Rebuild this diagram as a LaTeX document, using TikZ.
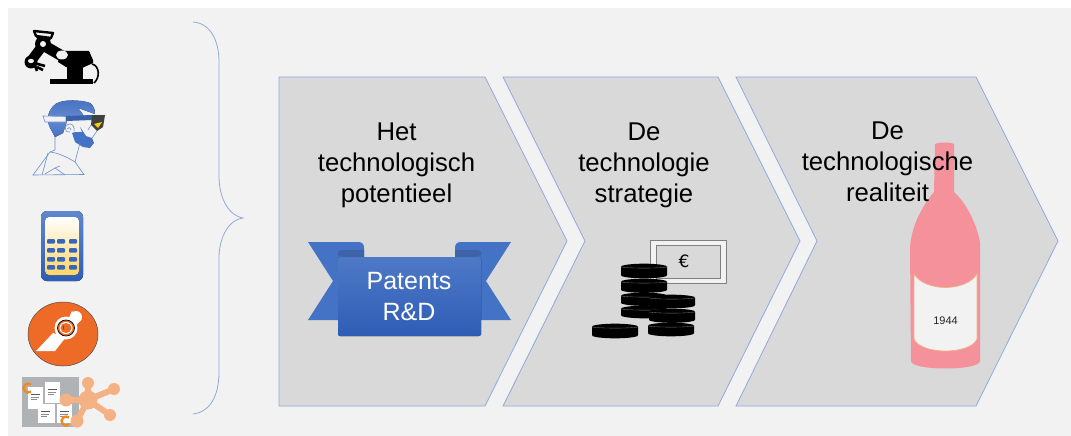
\documentclass[tikz,border=0pt]{standalone}
\usepackage{fontspec}
\setmainfont{Liberation Sans}
\newfontfamily\eurofont{DejaVu Sans}
\definecolor{pagegray}{HTML}{F2F2F2}
\definecolor{chevfill}{HTML}{D9D9D9}
\definecolor{chevline}{HTML}{8FAADC}
\definecolor{ribbonblue}{HTML}{4472C4}
\definecolor{ribbondark}{HTML}{2F5DB5}
\definecolor{ribbonfold}{HTML}{3F62A8}
\definecolor{bottlepink}{HTML}{F4919B}
\definecolor{labelline}{HTML}{F4B183}
\definecolor{iconorange}{HTML}{ED6B26}
\definecolor{peach}{HTML}{F4B183}
\definecolor{keyblue}{HTML}{3A66B8}
\definecolor{docgray}{HTML}{B0B3B6}
\tikzset{
  chev/.style={draw=chevline,fill=chevfill,line width=0.8pt,line join=miter},
  headtext/.style={align=center,font=\fontsize{25.7}{31}\selectfont,text=black,inner sep=0pt},
  lineart/.style={draw=ribbonblue!80,line width=0.6pt,fill=none},
}
\newcommand{\coin}[4]{% left, top, right, bottom
  \fill[black,rounded corners=1pt] (#1,#2+2) .. controls (#1+10,#2-1) and (#3-10,#2-1) .. (#3,#2+2) -- (#3,#4-2) .. controls (#3-10,#4+1) and (#1+10,#4+1) .. (#1,#4-2) -- cycle;
  \draw[black!55,line width=0.35pt] (#1,#2+3) .. controls (#1+10,#2+4.5) and (#3-10,#2+4.5) .. (#3,#2+3);
}
\begin{document}
\begin{tikzpicture}[x=1pt,y=-1pt]
\useasboundingbox (0,0) rectangle (1071,436);
\fill[white] (0,0) rectangle (1071,436);
\fill[pagegray] (8,8) rectangle (1071,436);

% chevrons
\draw[chev] (279,77) -- (485,77) -- (567,241) -- (485,406) -- (279,406) -- cycle;
\draw[chev] (503,77) -- (718,77) -- (800,241) -- (718,406) -- (503,406) -- (585,241) -- cycle;
\draw[chev] (736,77) -- (976,77) -- (1058,241) -- (976,406) -- (736,406) -- (817,241) -- cycle;

% brace
\draw[chevline,line width=0.8pt] (193,22) .. controls (210,23) and (219,40) .. (219,62)
  -- (219,176) .. controls (219,200) and (230,216) .. (243,218)
  .. controls (230,219) and (219,236) .. (219,258)
  -- (219,372) .. controls (219,396) and (210,412) .. (193,414);

% bottle
\fill[bottlepink] (935,144) .. controls (939,142) and (950,142) .. (954,144)
  -- (954,192) .. controls (966,203) and (976,222) .. (980,242)
  -- (980,361) .. controls (980,371) and (911,371) .. (911,361)
  -- (910,247) .. controls (912,222) and (925,203) .. (934,192) -- cycle;
\draw[labelline,line width=0.7pt,fill=pagegray] (914,274) .. controls (925,292) and (966,292) .. (977,274)
  -- (977,339) .. controls (970,355) and (921,355) .. (914,339) -- cycle;
\node[inner sep=0pt,font=\fontsize{11}{13}\selectfont,text=black!85] (year) at (945.5,321) {1944};

% heading texts
\node[headtext] (t1) at (396.5,165) {Het\\technologisch\\potentieel};
\node[headtext] (t2) at (644,165) {De\\technologie\\strategie};
\node[headtext] (t3) at (887.5,162) {De\\technologische\\realiteit};

% ribbon
\fill[ribbonblue] (308,242) -- (358,242) .. controls (362,242) and (364,244) .. (364,248) -- (364,262) -- (338,262) -- (338,320) -- (308,320) -- (333,281) -- cycle;
\fill[ribbonblue] (511,242) -- (461,242) .. controls (457,242) and (455,244) .. (455,248) -- (455,262) -- (481,262) -- (481,320) -- (511,320) -- (486,281) -- cycle;
\fill[top color=ribbonblue!95,bottom color=ribbondark,rounded corners=2pt] (338,257) -- (481,257) -- (481,336) -- (338,336) -- cycle;
\fill[ribbonfold] (364,250) -- (342,250) .. controls (336,250) and (336,257) .. (342,257) -- (364,257) -- cycle;
\fill[ribbonfold] (455,250) -- (477,250) .. controls (483,250) and (483,257) .. (477,257) -- (455,257) -- cycle;
\node[align=center,text=white,inner sep=0pt,font=\fontsize{25}{31}\selectfont] (patents) at (409,297) {Patents\\R\&D};

% banknote
\draw[gray,line width=0.8pt,fill=pagegray] (650,240) rectangle (726,283);
\draw[gray,line width=1pt,fill=chevfill] (656,245) rectangle (720,278);
\node[inner sep=0pt,font=\eurofont\fontsize{17}{20}\selectfont] (euro) at (684,261) {€};

% coins
\coin{621}{264}{667}{278}
\coin{621}{279}{667}{292.5}
\coin{621}{293}{667}{305.5}
\coin{621}{306}{667}{318}
\coin{649}{295}{695}{308}
\coin{649}{309}{695}{322.5}
\coin{648}{323}{694}{336}
\coin{592}{324}{638}{338}

% robot
\fill[black] (50,79) rectangle (93,84);
\fill[black] (67,66) rectangle (83,80);
\fill[black] (61,51) -- (89,51) -- (93,60) -- (93,63) -- (80,69) -- (66,67) -- (58,62) -- cycle;
\draw[black,line width=1.6pt] (92,64) .. controls (100,66) and (100,78) .. (94,83);
\draw[black,line width=11pt] (62,56) -- (43,45);
\draw[black,line width=10pt] (43,45) -- (31,61);
\draw[black,line width=2.4pt,line join=round] (34,31) -- (53,33) -- (51,38) -- (36,36) -- cycle;
\draw[black,line width=3pt] (37,36) -- (42,42) (50,38) -- (46,42);
\fill[black] (43,44) circle (8);
\fill[black] (31,62) circle (6.5);
\draw[black,line width=2.6pt] (34,63) -- (45,66) (34,63) -- (37,71) (37,67) -- (43,70);
\fill[pagegray] (43,44) circle (3);
\fill[pagegray] (62,55) ellipse (6 and 4.5);
\fill[pagegray] (31,61) ellipse (3 and 2.2);

% person
\fill[top color=ribbonblue,bottom color=ribbonblue!85]
  (48,116) .. controls (50,108) and (55,103) .. (60,102) .. controls (70,99) and (85,101) .. (90,103)
  .. controls (94,106) and (95,110) .. (95,114) -- (78,108) -- (84,116) -- cycle;
\fill[top color=ribbonblue!85,bottom color=ribbonblue] (48,122) -- (67,121) -- (63,133) -- (55,137) .. controls (52,131) and (49,127) .. (48,122) -- cycle;
\draw[lineart,fill=pagegray] (43,116) -- (66,116.5) -- (66,122) -- (45,122) -- cycle;
\fill[ribbonblue!85!black] (66,116) -- (92,115) -- (92,120) -- (66,121) -- cycle;
\fill[black!75] (92,115) -- (105,115) -- (103,127) -- (97,131) -- (91,125) -- cycle;
\fill[yellow!70!orange] (94,124) -- (102,122) -- (98,128) -- cycle;
\fill[ribbonblue] (75,132) -- (82,132) -- (80,127) -- (86,136) -- (92,138) -- (94,143) -- (90,148) -- (83,147) -- (75,142) -- (72,133) -- cycle;
\draw[lineart] (70,132) .. controls (63,133) and (64,123) .. (70,124) .. controls (73,124) and (75,128) .. (74,131);
\draw[lineart] (67,129) .. controls (68,127) and (70,127) .. (71,130);
\draw[lineart] (55,137) -- (55,150) -- (50,152) -- (33,175) -- (84,174.5) -- (75,162) -- (80,143);
\draw[lineart] (50,152) .. controls (60,153) and (72,160) .. (75,162);
\draw[lineart] (48,153) -- (42,175) (45,174) -- (55,168) -- (65,175) (55,168) -- (60,166);
\draw[lineart] (92,138) -- (97,131) (88,130) -- (91,125);

% calculator
\fill[top color=ribbonblue!85,bottom color=ribbondark,rounded corners=6pt] (41,211) rectangle (83,281);
\fill[top color=white,bottom color=yellow!45!orange!60,rounded corners=4pt] (45,217) rectangle (79,275);
\foreach \yy in {239,248,257,265}{
  \foreach \xx in {47,57,69}{
    \fill[keyblue,rounded corners=1pt] (\xx,\yy) rectangle ++(8,4.5);
  }
}

% orange circle
\draw[black!70,line width=0.5pt,fill=iconorange] (63,334) ellipse (35 and 32);
\fill[white] (36,351) -- (53,333) -- (66,337) -- (55,351) -- cycle;
\fill[white] (76,317) circle (6);
\fill[white] (66,328) circle (11.5);
\fill[white] (68,320) -- (72,311) -- (81,320) -- (75,326) -- cycle;
\draw[black,line width=0.7pt,fill=iconorange] (66,328) ellipse (8.5 and 8);
\fill[white] (66,328) ellipse (6.5 and 6);
\fill[iconorange] (66,328) ellipse (5.5 and 5);
\draw[black!80,line width=0.4pt] (63,325) -- (64,330);

% documents and network
\fill[docgray] (22,377) rectangle (79,427);
\foreach \x/\y/\w/\h in {45/382/15/21, 28/387/15/22, 38/404/17/19, 57/404/15/19}{
  \fill[white] (\x,\y) rectangle ++(\w,\h);
  \fill[black!65] (\x+3,\y+7) rectangle ++(9,1.3);
  \fill[black!45] (\x+3,\y+9.5) rectangle ++(8,1);
  \fill[black!45] (\x+3,\y+11.5) rectangle ++(6,1);
}
\draw[iconorange!80!yellow,line width=2.4pt] (31,391.5) arc (50:310:4.5);
\draw[iconorange!80!yellow,line width=2.4pt] (69,424.5) arc (50:310:4.5);
\draw[peach,line width=6pt] (88,400) -- (88,383) (88,400) -- (114,389) (88,400) -- (110,415) (88,400) -- (77,421) (88,400) -- (66,400);
\fill[peach] (88,400) circle (9.5);
\fill[peach] (88,383) circle (6);
\fill[peach] (114,389) circle (6);
\fill[peach] (110,415) circle (6);
\fill[peach] (77,421) circle (6.5);
\fill[peach] (66,400) circle (6.5);
\end{tikzpicture}
\end{document}
